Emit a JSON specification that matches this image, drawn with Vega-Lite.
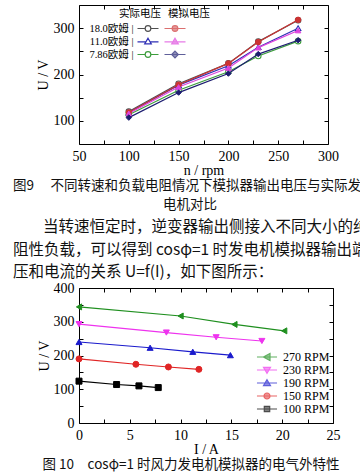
{
  "$schema": "https://vega.github.io/schema/vega-lite/v6.json",
  "padding": {"left": 13, "top": 4, "right": 0, "bottom": 0},
  "bounds": "flush",
  "spacing": 15,
  "datasets": {
    "c1": [
      {"series": "18.0欧姆 实际", "n": 100, "U": 120},
      {"series": "18.0欧姆 实际", "n": 150, "U": 180},
      {"series": "18.0欧姆 实际", "n": 200, "U": 224},
      {"series": "18.0欧姆 实际", "n": 230, "U": 271},
      {"series": "18.0欧姆 实际", "n": 270, "U": 317},
      {"series": "11.0欧姆 实际", "n": 100, "U": 118},
      {"series": "11.0欧姆 实际", "n": 150, "U": 177},
      {"series": "11.0欧姆 实际", "n": 200, "U": 219},
      {"series": "11.0欧姆 实际", "n": 230, "U": 259},
      {"series": "11.0欧姆 实际", "n": 270, "U": 300},
      {"series": "7.86欧姆 实际", "n": 100, "U": 113},
      {"series": "7.86欧姆 实际", "n": 150, "U": 166},
      {"series": "7.86欧姆 实际", "n": 200, "U": 206},
      {"series": "7.86欧姆 实际", "n": 230, "U": 240},
      {"series": "7.86欧姆 实际", "n": 270, "U": 272},
      {"series": "18.0欧姆 模拟", "n": 100, "U": 118},
      {"series": "18.0欧姆 模拟", "n": 150, "U": 178},
      {"series": "18.0欧姆 模拟", "n": 200, "U": 224},
      {"series": "18.0欧姆 模拟", "n": 230, "U": 270},
      {"series": "18.0欧姆 模拟", "n": 270, "U": 318},
      {"series": "11.0欧姆 模拟", "n": 100, "U": 116},
      {"series": "11.0欧姆 模拟", "n": 150, "U": 173},
      {"series": "11.0欧姆 模拟", "n": 200, "U": 214},
      {"series": "11.0欧姆 模拟", "n": 230, "U": 258},
      {"series": "11.0欧姆 模拟", "n": 270, "U": 295},
      {"series": "7.86欧姆 模拟", "n": 100, "U": 107},
      {"series": "7.86欧姆 模拟", "n": 150, "U": 161},
      {"series": "7.86欧姆 模拟", "n": 200, "U": 202},
      {"series": "7.86欧姆 模拟", "n": 230, "U": 244},
      {"series": "7.86欧姆 模拟", "n": 270, "U": 274}
    ],
    "c2": [
      {"rpm": "270 RPM", "I": 0, "U": 344},
      {"rpm": "270 RPM", "I": 10, "U": 317},
      {"rpm": "270 RPM", "I": 15.3, "U": 292},
      {"rpm": "270 RPM", "I": 20.2, "U": 273},
      {"rpm": "230 RPM", "I": 0, "U": 293},
      {"rpm": "230 RPM", "I": 8.6, "U": 268},
      {"rpm": "230 RPM", "I": 13.5, "U": 254},
      {"rpm": "230 RPM", "I": 18, "U": 243},
      {"rpm": "190 RPM", "I": 0, "U": 240},
      {"rpm": "190 RPM", "I": 7, "U": 223},
      {"rpm": "190 RPM", "I": 11.2, "U": 211},
      {"rpm": "190 RPM", "I": 14.9, "U": 201},
      {"rpm": "150 RPM", "I": 0, "U": 190},
      {"rpm": "150 RPM", "I": 5.6, "U": 174},
      {"rpm": "150 RPM", "I": 8.8, "U": 166},
      {"rpm": "150 RPM", "I": 11.8, "U": 159},
      {"rpm": "100 RPM", "I": 0, "U": 124},
      {"rpm": "100 RPM", "I": 3.7, "U": 114},
      {"rpm": "100 RPM", "I": 5.9, "U": 110},
      {"rpm": "100 RPM", "I": 7.8, "U": 105}
    ],
    "txt": [
      {"part": "caption", "line": 1, "text": "图9\u3000 不同转速和负载电阻情况下模拟器输出电压与实际发"},
      {"part": "caption", "line": 2, "text": "电机对比"},
      {"part": "para", "line": 1, "text": "当转速恒定时，逆变器输出侧接入不同大小的纯"},
      {"part": "para", "line": 2, "text": "阻性负载，可以得到 cosφ=1 时发电机模拟器输出端电"},
      {"part": "para", "line": 3, "text": "压和电流的关系 U=f(I)，如下图所示："}
    ]
  },
  "vconcat": [
    {
      "width": 249,
      "height": 139,
      "data": {"name": "c1"},
      "layer": [
        {
          "transform": [{"filter": "indexof(datum.series, '实际') >= 0"}],
          "mark": {"type": "line", "strokeWidth": 1.2},
          "encoding": {
            "x": {"field": "n", "type": "quantitative", "scale": {"domain": [50, 300], "nice": false, "zero": false},
                  "axis": {"orient": "bottom", "values": [50, 75, 100, 125, 150, 175, 200, 225, 250, 275, 300], "labelExpr": "datum.value % 50 === 0 ? datum.label : ''", "title": "n / rpm", "titlePadding": 0}},
            "y": {"field": "U", "type": "quantitative", "scale": {"domain": [50, 350], "nice": false, "zero": false},
                  "axis": {"orient": "left", "values": [100, 150, 200, 250, 300], "labelExpr": "datum.value % 100 === 0 ? datum.label : ''", "title": "U / V", "titlePadding": 3}},
            "stroke": {"field": "series", "type": "nominal", "scale": {"domain": ["18.0欧姆 实际", "11.0欧姆 实际", "7.86欧姆 实际"], "range": ["#505050", "#2f2fb5", "#3c9c3c"]}, "legend": null}
          }
        },
        {
          "transform": [{"filter": "indexof(datum.series, '实际') >= 0"}],
          "mark": {"type": "point", "fill": "white", "opacity": 1, "size": 30, "strokeWidth": 1.1},
          "encoding": {
            "x": {"field": "n", "type": "quantitative", "scale": {"domain": [50, 300], "nice": false, "zero": false}, "axis": null},
            "y": {"field": "U", "type": "quantitative", "scale": {"domain": [50, 350], "nice": false, "zero": false}, "axis": null},
            "stroke": {"field": "series", "type": "nominal", "scale": {"domain": ["18.0欧姆 实际", "11.0欧姆 实际", "7.86欧姆 实际"], "range": ["#505050", "#2f2fb5", "#3c9c3c"]}, "legend": null},
            "shape": {"field": "series", "type": "nominal", "scale": {"domain": ["18.0欧姆 实际", "11.0欧姆 实际", "7.86欧姆 实际"], "range": ["circle", "triangle-up", "circle"]}, "legend": null}
          }
        },
        {
          "transform": [{"filter": "indexof(datum.series, '实际') >= 0"}],
          "mark": {"type": "point", "fill": "white", "opacity": 0, "size": 30, "strokeWidth": 1.2},
          "encoding": {
            "x": {"field": "n", "type": "quantitative", "scale": {"domain": [50, 300], "nice": false, "zero": false}, "axis": null},
            "y": {"field": "U", "type": "quantitative", "scale": {"domain": [50, 350], "nice": false, "zero": false}, "axis": null},
            "stroke": {"field": "series", "type": "nominal", "scale": {"domain": ["18.0欧姆 实际", "11.0欧姆 实际", "7.86欧姆 实际"], "range": ["#505050", "#2f2fb5", "#3c9c3c"]},
                       "legend": {"title": "实际电压", "orient": "none", "legendX": 40, "legendY": 4, "titleAnchor": "end",
                                  "titleFontSize": 10.5, "titlePadding": 2, "labelFontSize": 10.5,
                                  "labelAlign": "right", "labelOffset": -21.5, "symbolSize": 144, "symbolStrokeWidth": 1.2, "symbolOpacity": 1, "rowPadding": -2,
                                  "labelExpr": "split(datum.label, ' ')[0] + ' |'"}},
            "shape": {"field": "series", "type": "nominal", "scale": {"domain": ["18.0欧姆 实际", "11.0欧姆 实际", "7.86欧姆 实际"],
                      "range": ["M-1.75,0H-0.47M0.47,0H1.75M-0.47,0A0.47,0.47 0 1,0 0.47,0A0.47,0.47 0 1,0 -0.47,0Z", "M-1.75,0.05H-0.35M0.35,0.05H1.75M0,-0.55L0.55,0.4L-0.55,0.4Z", "M-1.75,0H-0.47M0.47,0H1.75M-0.47,0A0.47,0.47 0 1,0 0.47,0A0.47,0.47 0 1,0 -0.47,0Z"]}}
          }
        },
        {
          "transform": [{"filter": "indexof(datum.series, '模拟') >= 0"}],
          "mark": {"type": "line", "strokeWidth": 1.2},
          "encoding": {
            "x": {"field": "n", "type": "quantitative", "scale": {"domain": [50, 300], "nice": false, "zero": false},
                  "axis": {"orient": "top", "values": [50, 75, 100, 125, 150, 175, 200, 225, 250, 275, 300], "labels": false, "title": null}},
            "y": {"field": "U", "type": "quantitative", "scale": {"domain": [50, 350], "nice": false, "zero": false},
                  "axis": {"orient": "right", "values": [100, 150, 200, 250, 300], "labels": false, "title": null}},
            "stroke": {"field": "series", "type": "nominal", "scale": {"domain": ["18.0欧姆 模拟", "11.0欧姆 模拟", "7.86欧姆 模拟"], "range": ["#cc3333", "#dd44dd", "#1c1c70"]}, "legend": null}
          }
        },
        {
          "transform": [{"filter": "indexof(datum.series, '模拟') >= 0"}],
          "mark": {"type": "point", "filled": true, "opacity": 1, "size": 30, "strokeWidth": 1},
          "encoding": {
            "x": {"field": "n", "type": "quantitative", "scale": {"domain": [50, 300], "nice": false, "zero": false}, "axis": null},
            "y": {"field": "U", "type": "quantitative", "scale": {"domain": [50, 350], "nice": false, "zero": false}, "axis": null},
            "stroke": {"field": "series", "type": "nominal", "scale": {"domain": ["18.0欧姆 模拟", "11.0欧姆 模拟", "7.86欧姆 模拟"], "range": ["#cc3333", "#dd44dd", "#1c1c70"]}, "legend": null},
            "fill": {"field": "series", "type": "nominal", "scale": {"domain": ["18.0欧姆 模拟", "11.0欧姆 模拟", "7.86欧姆 模拟"], "range": ["#cc3333", "#dd44dd", "#1c1c70"]}, "legend": null},
            "shape": {"field": "series", "type": "nominal", "scale": {"domain": ["18.0欧姆 模拟", "11.0欧姆 模拟", "7.86欧姆 模拟"], "range": ["circle", "triangle-up", "diamond"]}, "legend": null}
          }
        },
        {
          "transform": [{"filter": "false"}],
          "mark": {"type": "point", "filled": true, "size": 30, "strokeWidth": 1.2},
          "encoding": {
            "x": {"field": "n", "type": "quantitative", "scale": {"domain": [50, 300], "nice": false, "zero": false}, "axis": null},
            "y": {"field": "U", "type": "quantitative", "scale": {"domain": [50, 350], "nice": false, "zero": false}, "axis": null},
            "stroke": {"field": "series", "type": "nominal", "scale": {"domain": ["18.0欧姆 模拟", "11.0欧姆 模拟", "7.86欧姆 模拟"], "range": ["#cc3333", "#dd44dd", "#1c1c70"]},
                       "legend": {"title": "模拟电压", "orient": "none", "legendX": 89, "legendY": 4,
                                  "titleFontSize": 10.5, "titlePadding": 2, "labelFontSize": 10.5,
                                  "symbolSize": 144, "symbolStrokeWidth": 1.2, "rowPadding": -2,
                                  "labelExpr": "''"}},
            "fill": {"field": "series", "type": "nominal", "scale": {"domain": ["18.0欧姆 模拟", "11.0欧姆 模拟", "7.86欧姆 模拟"], "range": ["#cc3333", "#dd44dd", "#1c1c70"]}},
            "shape": {"field": "series", "type": "nominal", "scale": {"domain": ["18.0欧姆 模拟", "11.0欧姆 模拟", "7.86欧姆 模拟"],
                      "range": ["M-1.75,0H1.75M-0.47,0A0.47,0.47 0 1,0 0.47,0A0.47,0.47 0 1,0 -0.47,0Z", "M-1.75,0.05H1.75M0,-0.55L0.55,0.4L-0.55,0.4Z", "M-1.75,0H1.75M0,-0.55L0.55,0L0,0.55L-0.55,0Z"]}}
          }
        }
      ],
      "resolve": {"scale": {"stroke": "independent", "fill": "independent", "shape": "independent"}, "axis": {"x": "independent", "y": "independent"}}
    },
    {
      "width": 249,
      "height": 114,
      "data": {"name": "txt"},
      "layer": [
        {"transform": [{"filter": "datum.part === 'caption' && datum.line === 1"}],
         "mark": {"type": "text", "align": "left", "dx": -190.5, "font": "Noto Sans CJK SC", "fontSize": 13.5, "color": "#111"},
         "encoding": {"y": {"field": "line", "type": "quantitative", "axis": null, "scale": {"domain": [-0.421, 5.579], "reverse": true, "nice": false, "zero": false}}, "text": {"field": "text"}}},
        {"transform": [{"filter": "datum.part === 'caption' && datum.line === 2"}],
         "mark": {"type": "text", "align": "left", "dx": -40.5, "font": "Noto Sans CJK SC", "fontSize": 13.5, "color": "#111"},
         "encoding": {"y": {"field": "line", "type": "quantitative", "axis": null, "scale": {"domain": [-0.421, 5.579], "reverse": true, "nice": false, "zero": false}}, "text": {"field": "text"}}},
        {"transform": [{"filter": "datum.part === 'para' && datum.line === 1"}],
         "mark": {"type": "text", "align": "left", "dx": -160.5, "font": "Noto Sans CJK SC", "fontSize": 15.5, "color": "#111"},
         "encoding": {"y": {"field": "line", "type": "quantitative", "axis": null, "scale": {"domain": [-2.04, 3.027], "reverse": true, "nice": false, "zero": false}}, "text": {"field": "text"}}},
        {"transform": [{"filter": "datum.part === 'para' && datum.line > 1"}],
         "mark": {"type": "text", "align": "left", "dx": -190.5, "font": "Noto Sans CJK SC", "fontSize": 15.5, "color": "#111"},
         "encoding": {"y": {"field": "line", "type": "quantitative", "axis": null, "scale": {"domain": [-2.04, 3.027], "reverse": true, "nice": false, "zero": false}}, "text": {"field": "text"}}}
      ],
      "resolve": {"scale": {"y": "independent"}}
    },
    {
      "width": 254,
      "height": 135,
      "data": {"name": "c2"},
      "title": {"text": "图 10\u3000cosφ=1 时风力发电机模拟器的电气外特性", "orient": "bottom", "anchor": "middle", "font": "Noto Sans CJK SC", "fontSize": 13.5, "fontWeight": "normal", "color": "#111", "offset": 2, "dx": -15},
      "layer": [
        {"mark": {"type": "line", "strokeWidth": 1.2},
         "encoding": {
           "x": {"field": "I", "type": "quantitative", "scale": {"domain": [0, 25], "nice": false},
                 "axis": {"orient": "bottom", "values": [0, 2.5, 5, 7.5, 10, 12.5, 15, 17.5, 20, 22.5, 25], "labelExpr": "datum.value % 5 === 0 ? datum.label : ''", "title": "I / A", "titlePadding": 0}},
           "y": {"field": "U", "type": "quantitative", "scale": {"domain": [0, 400], "nice": false},
                 "axis": {"orient": "left", "values": [0, 50, 100, 150, 200, 250, 300, 350, 400], "labelExpr": "datum.value % 100 === 0 ? datum.label : ''", "title": "U / V", "titlePadding": 2}},
           "stroke": {"field": "rpm", "type": "nominal", "scale": {"domain": ["270 RPM", "230 RPM", "190 RPM", "150 RPM", "100 RPM"], "range": ["#1f8f1f", "#ee33ee", "#1a1acc", "#e02525", "#000000"]}, "legend": null}
         }},
        {"mark": {"type": "point", "filled": true, "opacity": 1, "size": 36, "strokeWidth": 1},
         "encoding": {
           "x": {"field": "I", "type": "quantitative", "scale": {"domain": [0, 25], "nice": false},
                 "axis": {"orient": "top", "values": [0, 2.5, 5, 7.5, 10, 12.5, 15, 17.5, 20, 22.5, 25], "labels": false, "title": null}},
           "y": {"field": "U", "type": "quantitative", "scale": {"domain": [0, 400], "nice": false},
                 "axis": {"orient": "right", "values": [0, 50, 100, 150, 200, 250, 300, 350, 400], "labels": false, "title": null}},
           "stroke": {"field": "rpm", "type": "nominal", "scale": {"domain": ["270 RPM", "230 RPM", "190 RPM", "150 RPM", "100 RPM"], "range": ["#1f8f1f", "#ee33ee", "#1a1acc", "#e02525", "#000000"]}, "legend": null},
           "fill": {"field": "rpm", "type": "nominal", "scale": {"domain": ["270 RPM", "230 RPM", "190 RPM", "150 RPM", "100 RPM"], "range": ["#1f8f1f", "#ee33ee", "#1a1acc", "#e02525", "#000000"]}, "legend": null},
           "shape": {"field": "rpm", "type": "nominal", "scale": {"domain": ["270 RPM", "230 RPM", "190 RPM", "150 RPM", "100 RPM"], "range": ["triangle-left", "triangle-down", "triangle-up", "circle", "square"]}, "legend": null}
         }},
        {"transform": [{"filter": "false"}],
         "mark": {"type": "point", "filled": true, "size": 36, "strokeWidth": 1.2},
         "encoding": {
           "x": {"field": "I", "type": "quantitative", "scale": {"domain": [0, 25], "nice": false}, "axis": null},
           "y": {"field": "U", "type": "quantitative", "scale": {"domain": [0, 400], "nice": false}, "axis": null},
           "stroke": {"field": "rpm", "type": "nominal", "scale": {"domain": ["270 RPM", "230 RPM", "190 RPM", "150 RPM", "100 RPM"], "range": ["#1f8f1f", "#ee33ee", "#1a1acc", "#e02525", "#000000"]},
                      "legend": {"title": null, "orient": "none", "legendX": 181, "legendY": 62,
                                 "labelFontSize": 12, "labelOffset": 9, "symbolSize": 144, "symbolStrokeWidth": 1.2, "rowPadding": 0}},
           "fill": {"field": "rpm", "type": "nominal", "scale": {"domain": ["270 RPM", "230 RPM", "190 RPM", "150 RPM", "100 RPM"], "range": ["#1f8f1f", "#ee33ee", "#1a1acc", "#e02525", "#000000"]}},
           "shape": {"field": "rpm", "type": "nominal", "scale": {"domain": ["270 RPM", "230 RPM", "190 RPM", "150 RPM", "100 RPM"],
                     "range": ["M-1.67,0H1.67M-0.6,0L0.5,-0.58L0.5,0.58Z", "M-1.67,0H1.67M-0.58,-0.45L0.58,-0.45L0,0.55Z", "M-1.67,0H1.67M0,-0.55L0.58,0.45L-0.58,0.45Z", "M-1.67,0H1.67M-0.5,0A0.5,0.5 0 1,0 0.5,0A0.5,0.5 0 1,0 -0.5,0Z", "M-1.67,0H1.67M-0.45,-0.45H0.45V0.45H-0.45Z"]}}
         }}
      ],
      "resolve": {"scale": {"stroke": "independent", "fill": "independent", "shape": "independent"}, "axis": {"x": "independent", "y": "independent"}}
    }
  ],
  "config": {
    "view": {"stroke": null},
    "axis": {"labelFont": "Liberation Serif", "labelFontSize": 14, "labelColor": "#000", "titleFont": "Liberation Serif", "titleFontSize": 14, "titleFontWeight": "normal", "titleColor": "#000", "domainColor": "#000", "domainWidth": 1, "tickColor": "#000", "tickSize": -4, "tickWidth": 1, "labelPadding": 9, "grid": false, "labelFlush": false, "labelOverlap": false},
    "legend": {"labelFont": "Liberation Serif, Noto Sans CJK SC", "labelColor": "#000", "titleFont": "Noto Sans CJK SC", "titleFontWeight": "normal", "titleColor": "#000"}
  }
}
